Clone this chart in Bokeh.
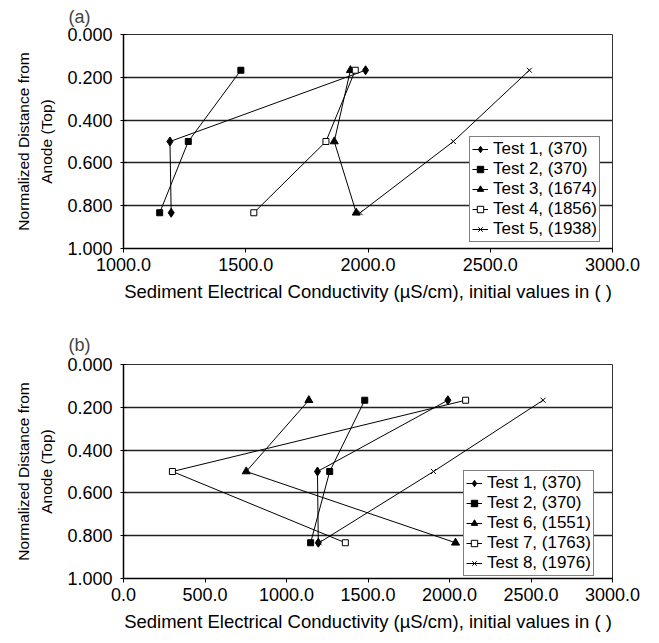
from bokeh.plotting import figure
from bokeh.layouts import column
from bokeh.models import (Range1d, FixedTicker, NumeralTickFormatter, Legend, LegendItem,
                          LinearAxis)
from bokeh.embed import file_html
from bokeh.resources import INLINE

# ---- data ----
depth = [0.167, 0.5, 0.833]
y_ticks = [0.0, 0.2, 0.4, 0.6, 0.8, 1.0]
x_ticks_a = [1000, 1500, 2000, 2500, 3000]
x_ticks_b = [0, 500, 1000, 1500, 2000, 2500, 3000]

test1 = [1990, 1190, 1195]
test2 = [1480, 1265, 1148]
test3 = [1928, 1862, 1952]
test4 = [1948, 1828, 1533]
test5 = [2660, 2349, 1968]
test6 = [1137, 753, 2037]
test7 = [2099, 300, 1361]
test8 = [2574, 1902, 1200]

labels_a = ["Test 1, (370)", "Test 2, (370)", "Test 3, (1674)", "Test 4, (1856)", "Test 5, (1938)"]
labels_b = ["Test 1, (370)", "Test 2, (370)", "Test 6, (1551)", "Test 7, (1763)", "Test 8, (1976)"]

FONT = "Liberation Sans"

# marker styles: (marker, size, fill)
styles = [("diamond", 9, "black"), ("square", 6, "black"), ("triangle", 8, "black"),
          ("square", 6, "white"), ("x", 7, "black")]


def make_fig(title, x_start, x_ticks, height, b_top, b_bottom, t_standoff):
    p = figure(width=659, height=height, x_range=Range1d(x_start, 3000), y_range=Range1d(1.0, 0.0),
               output_backend="svg", toolbar_location=None,
               min_border_left=123, min_border_right=47, min_border_top=b_top, min_border_bottom=b_bottom)
    p.title.text = title
    p.title.align = "left"
    p.title.vertical_align = "top"
    p.title.offset = -55
    p.title.standoff = t_standoff
    p.title.text_font = FONT
    p.title.text_font_size = "18px"
    p.title.text_font_style = "normal"
    p.outline_line_color = "#333333"
    p.outline_line_width = 1
    p.background_fill_color = "white"
    p.border_fill_color = "white"

    p.xaxis.ticker = FixedTicker(ticks=x_ticks)
    p.xaxis.formatter = NumeralTickFormatter(format="0.0")
    p.yaxis.ticker = FixedTicker(ticks=y_ticks)
    p.yaxis.formatter = NumeralTickFormatter(format="0.000")
    for ax in (p.xaxis[0], p.yaxis[0]):
        ax.axis_line_color = "black"
        ax.axis_line_width = 1.5
        ax.major_tick_line_color = "black"
        ax.major_tick_line_width = 1
        ax.minor_tick_line_color = None
        ax.major_label_text_font = FONT
        ax.major_label_text_font_size = "18px"
        ax.major_label_text_color = "black"
        ax.axis_label_text_font = FONT
        ax.axis_label_text_font_style = "normal"
        ax.axis_label_text_color = "black"
    p.xaxis.axis_label_text_font_size = "18.5px"
    p.yaxis.axis_label_text_font_size = "15.5px"
    p.xaxis.major_tick_in = 0
    p.xaxis.major_tick_out = 4
    p.xaxis.major_label_standoff = 5
    p.xaxis.axis_label_standoff = 7
    p.yaxis.major_tick_in = 3
    p.yaxis.major_tick_out = 3
    p.yaxis.major_label_standoff = 8
    p.yaxis.axis_label_standoff = 9
    p.xaxis.axis_label = "Sediment Electrical Conductivity (\u00b5S/cm), initial values in ( )"
    p.yaxis.axis_label = "Anode (Top)"

    outer = LinearAxis(axis_label="Normalized Distance from", ticker=FixedTicker(ticks=[]),
                       axis_line_color=None, major_tick_line_color=None, minor_tick_line_color=None,
                       major_tick_in=0, major_tick_out=0, major_label_standoff=0,
                       major_label_text_font_size="0px", axis_label_standoff=4,
                       axis_label_text_font=FONT, axis_label_text_font_size="15.5px",
                       axis_label_text_font_style="normal", axis_label_text_color="black")
    p.add_layout(outer, "left")

    p.xgrid.grid_line_color = None
    p.ygrid.ticker = FixedTicker(ticks=[0.2, 0.4, 0.6, 0.8])
    p.ygrid.grid_line_color = "#222222"
    p.ygrid.grid_line_width = 1.5
    return p


def add_series(p, series, labels, loc):
    items = []
    for vals, lab, (mk, sz, fill) in zip(series, labels, styles):
        r1 = p.line(vals, depth, line_color="black", line_width=1)
        r2 = p.scatter(vals, depth, marker=mk, size=sz, fill_color=fill, line_color="black", line_width=1)
        items.append(LegendItem(label=lab, renderers=[r1, r2]))
    leg = Legend(items=items, location=loc)
    leg.label_text_font = FONT
    leg.label_text_font_size = "17px"
    leg.label_text_color = "black"
    leg.border_line_color = "black"
    leg.border_line_width = 1
    leg.background_fill_color = "white"
    leg.background_fill_alpha = 1
    leg.padding = 2
    leg.spacing = 0
    leg.margin = 0
    leg.glyph_width = 16
    leg.glyph_height = 16
    leg.label_height = 16
    leg.label_standoff = 5
    p.add_layout(leg)


pa = make_fig("(a)", 1000, x_ticks_a, 322, 31, 74, 12)
add_series(pa, [test1, test2, test3, test4, test5], labels_a, (346, 6))

pb = make_fig("(b)", 0, x_ticks_b, 321, 42, 65, 16)
add_series(pb, [test1, test2, test6, test7, test8], labels_b, (340, 2))

layout = column(pa, pb, spacing=0)
open("out.html", "w").write(file_html(layout, INLINE))
